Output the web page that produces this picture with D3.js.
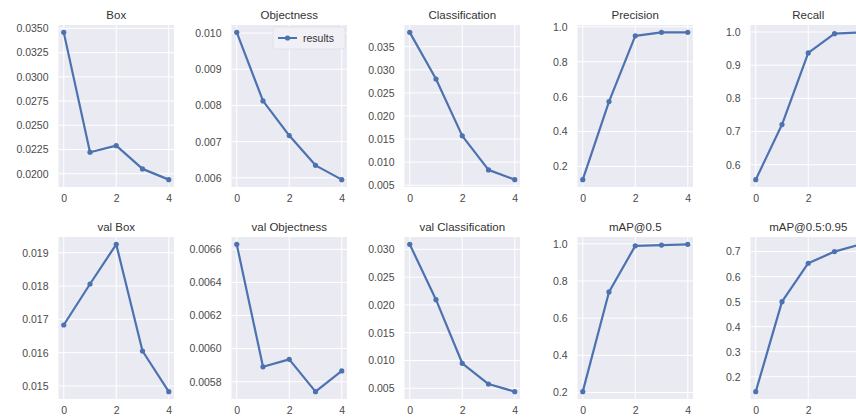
<!DOCTYPE html>
<html><head><meta charset="utf-8">
<script src="https://cdn.jsdelivr.net/npm/d3@7"></script>
<style>body{margin:0;background:#fff}svg{display:block}text{font-family:"Liberation Sans",Arial,sans-serif}</style>
</head><body><svg id="c" width="856" height="420"></svg>
<script>
const epochs = [0, 1, 2, 3, 4];
const titles = ["Box", "Objectness", "Classification", "Precision", "Recall",
                "val Box", "val Objectness", "val Classification", "mAP@0.5", "mAP@0.5:0.95"];
const boxLoss = [0.03459, 0.02222, 0.0229, 0.0205, 0.01939];
const objLoss = [0.01002, 0.008126, 0.007167, 0.006345, 0.00595];
const clsLoss = [0.0381, 0.0280, 0.0157, 0.00833, 0.00622];
const precision = [0.125, 0.572, 0.948, 0.968, 0.968];
const recall = [0.555, 0.721, 0.937, 0.995, 0.999];
const valBox = [0.01683, 0.01806, 0.01925, 0.01605, 0.01483];
const valObj = [0.00663, 0.00589, 0.005935, 0.00574, 0.005865];
const valCls = [0.0309, 0.02095, 0.0095, 0.00577, 0.0044];
const map50 = [0.205, 0.741, 0.989, 0.993, 0.997];
const map5095 = [0.1403, 0.5, 0.6536, 0.70, 0.729];
const series = [boxLoss, objLoss, clsLoss, precision, recall, valBox, valObj, valCls, map50, map5095];
const yTicks = [
  [0.0200, 0.0225, 0.0250, 0.0275, 0.0300, 0.0325, 0.0350],
  [0.006, 0.007, 0.008, 0.009, 0.010],
  [0.005, 0.010, 0.015, 0.020, 0.025, 0.030, 0.035],
  [0.2, 0.4, 0.6, 0.8, 1.0],
  [0.6, 0.7, 0.8, 0.9, 1.0],
  [0.015, 0.016, 0.017, 0.018, 0.019],
  [0.0058, 0.0060, 0.0062, 0.0064, 0.0066],
  [0.005, 0.010, 0.015, 0.020, 0.025, 0.030],
  [0.2, 0.4, 0.6, 0.8, 1.0],
  [0.2, 0.3, 0.4, 0.5, 0.6, 0.7]
];
const yFormats = [".4f", ".3f", ".3f", ".1f", ".1f", ".3f", ".4f", ".3f", ".1f", ".1f"];
const xTicks = [0, 2, 4];
const legendLabel = "results";

const W = 856;
const svg = d3.select("#c");
const color = "#4c72b0";
const left0 = 58.5, step = 173, w = 115.5, h = 162;
const tops = [25, 237];

series.forEach((vals, i) => {
  const row = Math.floor(i / 5), col = i % 5;
  const x0 = left0 + col * step, y0 = tops[row];
  const g = svg.append("g").attr("transform", `translate(${x0},${y0})`);
  const x = d3.scaleLinear().domain([-0.2, 4.2]).range([0, w]);
  const [mn, mx] = d3.extent(vals);
  const pad = (mx - mn) * 0.05;
  const y = d3.scaleLinear().domain([mn - pad, mx + pad]).range([h, 0]);
  g.append("rect").attr("width", w).attr("height", h).attr("fill", "#eaeaf2");
  g.selectAll(".gy").data(yTicks[i]).join("line")
    .attr("x1", 0).attr("x2", w).attr("y1", d => y(d)).attr("y2", d => y(d))
    .attr("stroke", "#fff").attr("stroke-width", 1);
  g.selectAll(".gx").data(xTicks).join("line")
    .attr("y1", 0).attr("y2", h).attr("x1", d => x(d)).attr("x2", d => x(d))
    .attr("stroke", "#fff").attr("stroke-width", 1);
  const ya = d3.axisLeft(y).tickValues(yTicks[i]).tickFormat(d3.format(yFormats[i])).tickSize(0).tickPadding(10);
  const yg = g.append("g").call(ya);
  yg.select(".domain").remove();
  yg.selectAll("text").attr("fill", "#4a4a4a").style("font-size", "10.5px").style("font-family", '"Liberation Sans",Arial,sans-serif');
  // only label x ticks that fall inside the visible page (reference is cropped at right)
  const visibleX = xTicks.filter(d => x0 + x(d) + 4 <= W);
  const xa = d3.axisBottom(x).tickValues(visibleX).tickFormat(d3.format("d")).tickSize(0).tickPadding(8);
  const xg = g.append("g").attr("transform", `translate(0,${h})`).call(xa);
  xg.select(".domain").remove();
  xg.selectAll("text").attr("fill", "#4a4a4a").style("font-size", "10.5px").style("font-family", '"Liberation Sans",Arial,sans-serif');
  const clipId = "clip" + i;
  g.append("clipPath").attr("id", clipId).append("rect").attr("width", w).attr("height", h);
  const pg = g.append("g").attr("clip-path", `url(#${clipId})`);
  pg.append("path").datum(vals)
    .attr("d", d3.line().x((d, j) => x(epochs[j])).y(d => y(d)))
    .attr("fill", "none").attr("stroke", color).attr("stroke-width", 2.2).attr("stroke-linejoin", "round");
  pg.selectAll("circle").data(vals).join("circle")
    .attr("cx", (d, j) => x(epochs[j])).attr("cy", d => y(d)).attr("r", 2.6).attr("fill", color);
  g.append("text").attr("x", w / 2).attr("y", -6).attr("text-anchor", "middle")
    .attr("fill", "#333").style("font-size", "11.5px").text(titles[i]);
  if (i === 1) {
    const lg = g.append("g").attr("transform", `translate(${w - 74},2)`);
    lg.append("rect").attr("width", 72).attr("height", 22).attr("rx", 3)
      .attr("fill", "#f0f0f6").attr("stroke", "#dedee8").attr("stroke-width", 0.8);
    lg.append("line").attr("x1", 5).attr("x2", 24).attr("y1", 11).attr("y2", 11)
      .attr("stroke", color).attr("stroke-width", 2);
    lg.append("circle").attr("cx", 14.5).attr("cy", 11).attr("r", 2.6).attr("fill", color);
    lg.append("text").attr("x", 30).attr("y", 15).attr("fill", "#333")
      .style("font-size", "10.5px").text(legendLabel);
  }
});
</script></body></html>
